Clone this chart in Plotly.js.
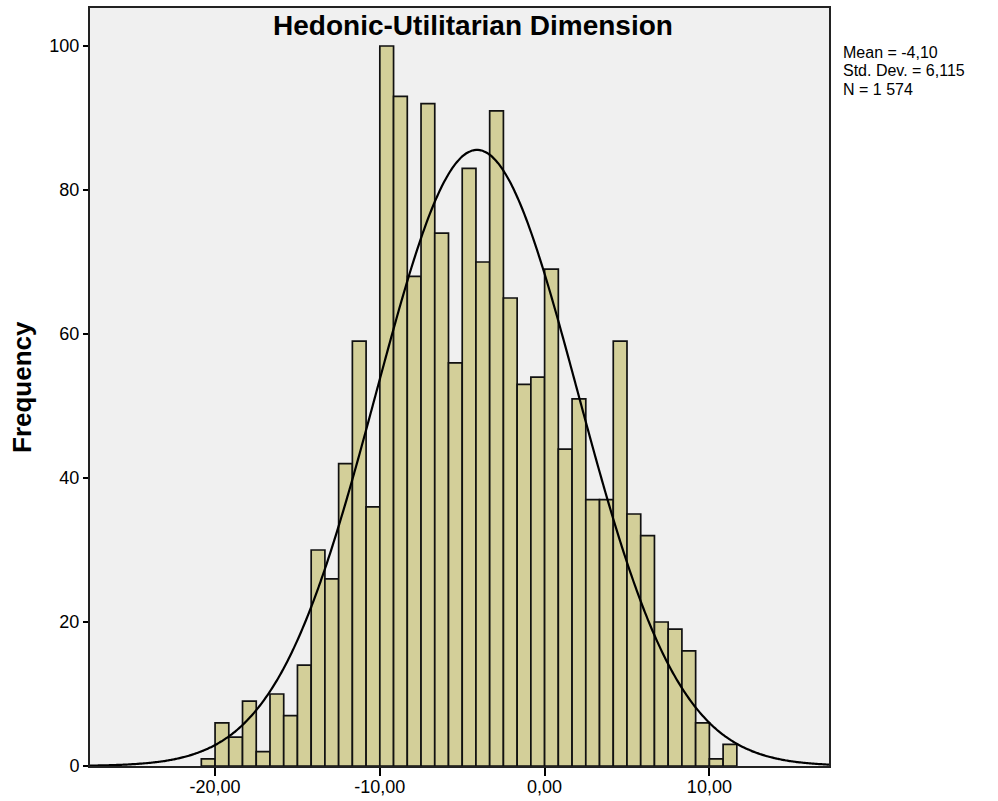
<!DOCTYPE html>
<html>
<head>
<meta charset="utf-8">
<script src="https://cdn.plot.ly/plotly-3.0.1.min.js"></script>
<style>html,body{margin:0;padding:0;background:#fff;}#chart{width:998px;height:801px;}</style>
</head>
<body>
<div id="chart"></div>
<script>
// Histogram data
const binStart = -20.8333;
const binWidth = 0.83333;
const counts = [1, 6, 4, 9, 2, 10, 7, 14, 30, 26, 42, 59, 36, 100, 93, 68, 92, 74, 56, 83, 70, 91, 65, 53, 54, 69, 44, 51, 37, 37, 59, 35, 32, 20, 19, 16, 6, 1, 3];
const statMean = -4.10;
const statSD = 6.115;
const statN = 1574;
const xTickVals = [-20, -10, 0, 10];
const xTickText = ["-20,00", "-10,00", "0,00", "10,00"];
const yTickVals = [0, 20, 40, 60, 80, 100];
const statsLines = ["Mean = -4,10", "Std. Dev. = 6,115", "N = 1 574"];

const centers = counts.map((c, i) => binStart + (i + 0.5) * binWidth);

// Fitted normal curve from the stated statistics
const xMin = -27.59, xMax = 17.26;
const curveX = [], curveY = [];
for (let k = 0; k <= 400; k++) {
  const x = xMin + (xMax - xMin) * k / 400;
  const z = (x - statMean) / statSD;
  curveX.push(x);
  curveY.push(statN * binWidth / (statSD * Math.sqrt(2 * Math.PI)) * Math.exp(-0.5 * z * z));
}

const font = "'Liberation Sans', Arial, sans-serif";

const traces = [
  {
    type: 'bar', x: centers, y: counts, width: binWidth,
    marker: {color: '#D3CF99', line: {color: '#111111', width: 1.7}},
    hoverinfo: 'x+y', showlegend: false
  },
  {
    type: 'scatter', mode: 'lines', x: curveX, y: curveY,
    line: {color: '#000000', width: 2.2, shape: 'spline'},
    hoverinfo: 'skip', showlegend: false
  }
];

const statY = [0.941, 0.917, 0.893];
const annotations = statsLines.map((t, i) => ({
  xref: 'paper', yref: 'paper', x: 1.0, y: statY[i],
  xshift: 13, xanchor: 'left', yanchor: 'middle', align: 'left',
  showarrow: false, text: t, borderpad: 0,
  font: {family: font, size: 16, color: '#000'}
}));
annotations.push({
  xref: 'paper', yref: 'paper', x: (22 - 90) / 739, y: 0.5,
  xanchor: 'center', yanchor: 'middle', textangle: -90,
  showarrow: false, text: '<b>Frequency</b>',
  font: {family: font, size: 26, color: '#000'}
});

const layout = {
  width: 998, height: 801,
  margin: {l: 90, r: 169, t: 8, b: 35},
  paper_bgcolor: '#ffffff',
  plot_bgcolor: '#F0F0F0',
  bargap: 0,
  showlegend: false,
  font: {family: font, color: '#000'},
  xaxis: {
    range: [xMin, xMax], tickvals: xTickVals, ticktext: xTickText,
    ticks: 'outside', ticklen: 8, tickwidth: 2, tickcolor: '#000',
    ticklabelstandoff: -5,
    tickfont: {family: font, size: 18, color: '#000'},
    showgrid: false, zeroline: false,
    showline: true, linecolor: '#222', linewidth: 2, mirror: true
  },
  yaxis: {
    range: [0, 105.28], tickvals: yTickVals,
    ticks: 'outside', ticklen: 5, tickwidth: 2, tickcolor: '#000',
    tickfont: {family: font, size: 18, color: '#000'},
    showgrid: false, zeroline: false,
    showline: true, linecolor: '#222', linewidth: 2, mirror: true
  },
  title: {
    text: '<b>Hedonic-Utilitarian Dimension</b>',
    font: {family: font, size: 28, color: '#000'},
    x: 473 / 998, xref: 'container', xanchor: 'center',
    y: 0.969, yref: 'container', yanchor: 'middle'
  },
  annotations: annotations
};

Plotly.newPlot('chart', traces, layout, {displayModeBar: false, staticPlot: true});
</script>
</body>
</html>
